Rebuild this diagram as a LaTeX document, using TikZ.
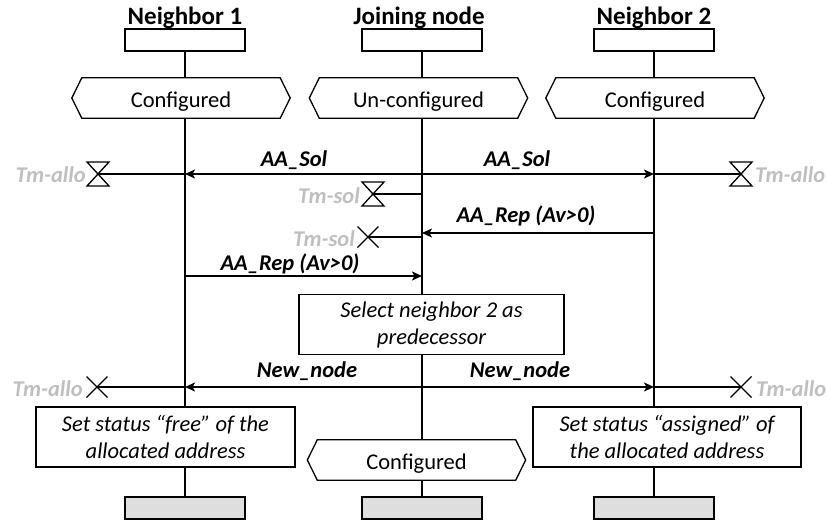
\documentclass[tikz,border=0pt]{standalone}
\usepackage{fontspec}
\setmainfont{Carlito}
\usetikzlibrary{arrows.meta,calc}
\definecolor{tmgray}{RGB}{191,191,191}
\definecolor{endfill}{RGB}{222,222,222}
\pgfdeclarelayer{lifelines}
\pgfdeclarelayer{frames}
\pgfsetlayers{lifelines,frames,main}

% state node with a hexagonal frame (frame goes on its own layer, under the text)
\newcommand\hexstate[4]{%
  \node[statebody] (#1) at (#2,#3) {#4};
  \begin{pgfonlayer}{frames}
    \draw[line width=1.3pt, fill=white]
      (#1.north west) -- (#1.north east) -- ($(#1.east)+(10,0)$) --
      (#1.south east) -- (#1.south west) -- ($(#1.west)+(-10,0)$) -- cycle;
  \end{pgfonlayer}}

\begin{document}
\begin{tikzpicture}[x=1pt,y=-1pt,
  >={Stealth[length=10pt,width=9pt,inset=2.5pt]},
  lifeline/.style={line width=1.3pt},
  head/.style={font=\fontsize{25}{30}\selectfont\bfseries, inner sep=0, anchor=base},
  topbox/.style={draw, line width=1.3pt, fill=white, minimum width=120pt, minimum height=22pt, inner sep=0},
  endbox/.style={topbox, fill=endfill},
  statebody/.style={minimum width=198pt, minimum height=40pt, inner sep=0,
    text height=18pt, text depth=0pt, font=\fontsize{22.5}{27}\selectfont},
  msg/.style={line width=2.6pt},
  tline/.style={line width=1.3pt},
  mlabel/.style={font=\fontsize{22.5}{27}\selectfont\bfseries\itshape, inner sep=0, anchor=base},
  tlabel/.style={font=\fontsize{22.5}{27}\selectfont\bfseries\itshape, text=tmgray, inner sep=0},
  action/.style={draw, line width=1.3pt, fill=white, align=center, inner sep=0,
    minimum height=60pt, font=\fontsize{22.5}{27}\selectfont\itshape},
  hourglass/.pic={\draw[tline] (-11,-12) -- (11,-12) -- (-11,12) -- (11,12) -- cycle;},
  xmark/.pic={\draw[tline] (-10.5,-10.5) -- (10.5,10.5) (-10.5,10.5) -- (10.5,-10.5);},
]
\useasboundingbox (0,0) rectangle (827,520);

% ---- instance heads
\node[head] (h1) at (185,24) {Neighbor 1};
\node[head] (h2) at (419,24) {Joining node};
\node[head] (h3) at (654,24) {Neighbor 2};
\node[topbox] (t1) at (185,40) {};
\node[topbox] (t2) at (422,40) {};
\node[topbox] (t3) at (654,40) {};

% ---- instance ends
\node[endbox] (e1) at (185,508) {};
\node[endbox] (e2) at (422,508) {};
\node[endbox] (e3) at (654,508) {};

% ---- lifelines
\begin{pgfonlayer}{lifelines}
  \draw[lifeline] (t1.south) -- (e1.north);
  \draw[lifeline] (t2.south) -- (e2.north);
  \draw[lifeline] (t3.south) -- (e3.north);
\end{pgfonlayer}

% ---- initial states
\hexstate{s1}{181}{98}{Configured}
\hexstate{s2}{418.5}{98}{Un-configured}
\hexstate{s3}{655}{98}{Configured}

% ---- AA_Sol broadcast from the joining node
\coordinate (solA) at (185,174);
\coordinate (solC) at (654,174);
\draw[msg,<->] (solA) -- (solC);
\node[mlabel] (lsol1) at (294,166) {AA\_Sol};
\node[mlabel] (lsol2) at (517,166) {AA\_Sol};

\coordinate (tmA1) at (98,174);
\coordinate (tmC1) at (741,174);
\draw[tline] (solA) -- (tmA1);
\draw[tline] (solC) -- (tmC1);
\pic at (tmA1) {hourglass};
\pic at (tmC1) {hourglass};
\node[tlabel, anchor=base east] (ltmA1) at (86,182) {Tm-allo};
\node[tlabel, anchor=base west] (ltmC1) at (755,182) {Tm-allo};

% ---- solicitation timer of the joining node
\coordinate (solB) at (422,194);
\coordinate (tmB1) at (373,194);
\draw[tline] (solB) -- (tmB1);
\pic at (tmB1) {hourglass};
\node[tlabel, anchor=base east] (ltmB1) at (360,203) {Tm-sol};

% ---- AA_Rep from neighbor 2
\coordinate (repC) at (654,233);
\coordinate (repB1) at (422,233);
\draw[msg,->] (repC) -- (repB1);
\node[mlabel] (lrep2) at (526,222) {AA\_Rep (Av>0)};

\coordinate (stopB) at (422,237);
\coordinate (tmB2) at (368,237);
\draw[tline] (stopB) -- (tmB2);
\pic at (tmB2) {xmark};
\node[tlabel, anchor=base east] (ltmB2) at (355,246) {Tm-sol};

% ---- AA_Rep from neighbor 1
\coordinate (repA) at (185,276);
\coordinate (repB2) at (422,276);
\draw[msg,->] (repA) -- (repB2);
\node[mlabel] (lrep1) at (290,270) {AA\_Rep (Av>0)};

% ---- choice of predecessor
\node[action, minimum width=265pt] (sel) at (431.5,324.5) {Select neighbor 2 as\\predecessor};

% ---- New_node broadcast
\coordinate (newA) at (185,387);
\coordinate (newC) at (654,387);
\draw[msg,<->] (newA) -- (newC);
\node[mlabel] (lnew1) at (307,377) {New\_node};
\node[mlabel] (lnew2) at (520,377) {New\_node};

\coordinate (tmA2) at (97,387);
\coordinate (tmC2) at (741,387);
\draw[tline] (newA) -- (tmA2);
\draw[tline] (newC) -- (tmC2);
\pic at (tmA2) {xmark};
\pic at (tmC2) {xmark};
\node[tlabel, anchor=base east] (ltmA2) at (83,396) {Tm-allo};
\node[tlabel, anchor=base west] (ltmC2) at (756,396) {Tm-allo};

% ---- address bookkeeping at the neighbors
\node[action, minimum width=259pt] (free) at (165.5,437) {Set status “free” of the\\allocated address};
\node[action, minimum width=268pt] (asg) at (667,437) {Set status “assigned” of\\the allocated address};

% ---- final state of the joining node
\hexstate{s4}{416.5}{460}{Configured}
\end{tikzpicture}
\end{document}
